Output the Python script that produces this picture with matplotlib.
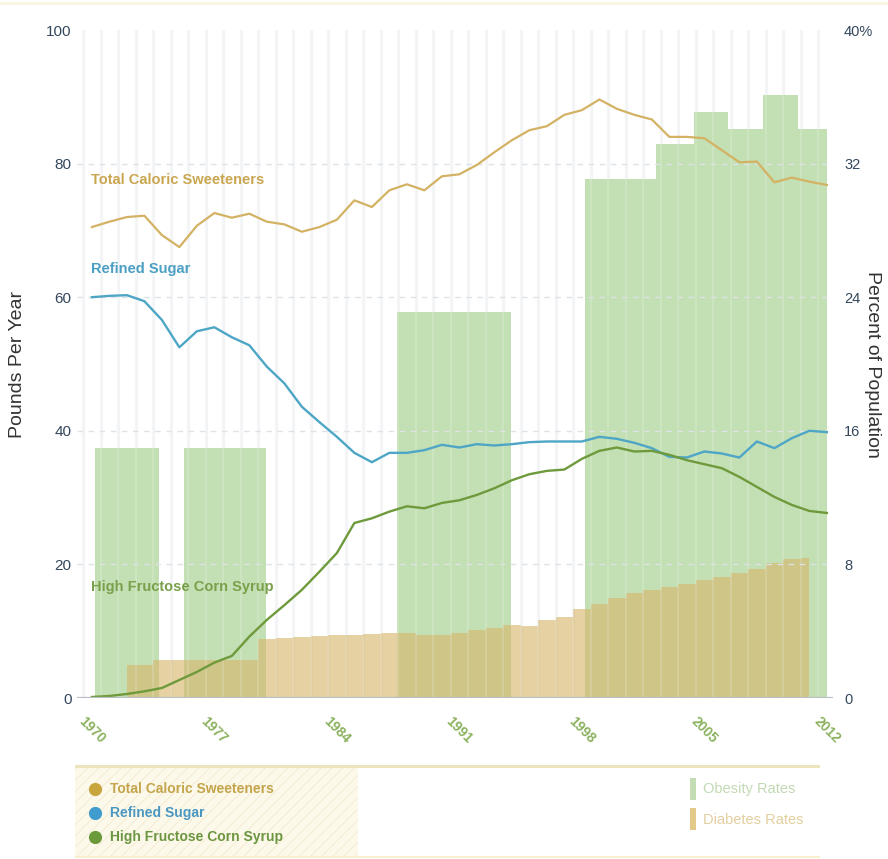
import numpy as np
import matplotlib
matplotlib.use("Agg")
import matplotlib.pyplot as plt
from matplotlib.patches import Rectangle
from matplotlib.lines import Line2D

plt.rcParams['font.family'] = ['Liberation Sans', 'DejaVu Sans']
plt.rcParams['hatch.linewidth'] = 0.6

# --- data (pounds per person per year, percent of population) ---
years = list(range(1970, 2013))
total_caloric = [70.5, 71.3, 72.0, 72.2, 69.3, 67.5, 70.7, 72.6, 71.9, 72.5,
                 71.3, 70.9, 69.8, 70.5, 71.6, 74.5, 73.5, 76.0, 76.9, 76.0,
                 78.1, 78.4, 79.8, 81.7, 83.5, 85.0, 85.6, 87.3, 88.0, 89.6,
                 88.2, 87.3, 86.6, 84.0, 84.0, 83.8, 82.0, 80.2, 80.3, 77.2,
                 77.9, 77.3, 76.8]
refined_sugar = [60.0, 60.2, 60.3, 59.4, 56.6, 52.5, 54.9, 55.5, 54.0, 52.8,
                 49.6, 47.1, 43.6, 41.3, 39.1, 36.7, 35.3, 36.7, 36.7, 37.1,
                 37.9, 37.5, 38.0, 37.8, 38.0, 38.3, 38.4, 38.4, 38.4, 39.1,
                 38.8, 38.2, 37.4, 36.1, 36.0, 36.9, 36.6, 36.0, 38.4, 37.4,
                 38.9, 40.0, 39.8]
hfcs = [0.15, 0.3, 0.6, 1.0, 1.5, 2.7, 3.9, 5.3, 6.3, 9.2,
        11.7, 13.9, 16.2, 18.9, 21.7, 26.2, 26.9, 27.9, 28.7, 28.4,
        29.2, 29.6, 30.4, 31.4, 32.6, 33.5, 34.0, 34.2, 35.8, 37.0,
        37.5, 36.9, 37.0, 36.4, 35.6, 35.0, 34.4, 33.1, 31.6, 30.1,
        28.9, 28.0, 27.7]

diabetes_years = list(range(1972, 2012))
diabetes = [1.98, 1.98, 2.28, 2.28, 2.28, 2.3, 2.3, 2.3,
            3.55, 3.6, 3.65, 3.7, 3.75, 3.8, 3.85, 3.9, 3.9, 3.8,
            3.8, 3.9, 4.05, 4.2, 4.4, 4.3, 4.65, 4.85, 5.3, 5.6,
            6.0, 6.3, 6.45, 6.65, 6.85, 7.05, 7.25, 7.5, 7.75, 8.1,
            8.35, 8.4]

obesity_periods = ["1971-74", "1976-80", "1988-94", "1999-02", "2003-04",
                   "2005-06", "2007-08", "2009-10", "2011-12"]
obesity_start = [1970.2, 1975.25, 1987.45, 1998.2, 2002.25, 2004.4, 2006.35, 2008.35, 2010.35]
obesity_end = [1973.85, 1979.95, 1993.95, 2002.25, 2004.4, 2006.35, 2008.35, 2010.35, 2012.0]
obesity_rate = [15.0, 15.0, 23.1, 31.1, 33.2, 35.1, 34.1, 36.1, 34.1]

xtick_years = [1970, 1977, 1984, 1991, 1998, 2005, 2012]

gold = '#d3b264'
blue = '#4ea6c6'
green = '#6e9a3c'
bar_green = '#c3dfb4'
tan = '#d6b66a'

fig = plt.figure(figsize=(8.88, 8.59), dpi=100)
fig.patch.set_facecolor('white')

ax2 = fig.add_axes([77 / 888, 1 - 698 / 859, 756 / 888, 668 / 859])
ax = ax2.twinx()
ax.set_zorder(ax2.get_zorder() + 1)
ax.patch.set_visible(False)

# background year stripes
stripes = np.arange(1969.5, 2012.0, 1.0)
for s in stripes:
    ax2.axvline(s, color='#f1f3f5', lw=2.2, zorder=0)

# obesity bars
for a, b, r in zip(obesity_start, obesity_end, obesity_rate):
    ax2.bar(a, r, width=b - a, align='edge', color=bar_green, lw=0, zorder=1)

# diabetes area
ax2.fill_between(diabetes_years, 0, diabetes, step='mid', color=tan,
                 alpha=0.62, lw=0, zorder=2)

for s in stripes:
    ax2.axvline(s, color='white', lw=1.2, alpha=0.2, zorder=3)

ax2.set_ylim(0, 40)
ax2.set_xlim(1969.15, 2012.35)

# sweetener lines
for yv in [20, 40, 60, 80]:
    ax.axhline(yv, color='#dfe2e6', lw=1, ls=(0, (4, 4)), zorder=1)
ax.plot(years, total_caloric, color=gold, lw=1.6, zorder=4)
ax.plot(years, refined_sugar, color=blue, lw=1.7, zorder=4)
ax.plot(years, hfcs, color=green, lw=1.7, zorder=4)
ax.axhline(0, color='#b9bdc4', lw=1.6, zorder=5)
ax.set_ylim(0, 100)
ax.set_xlim(1969.15, 2012.35)

ax.text(1969.95, 77.5, 'Total Caloric Sweeteners', color='#c9a650',
        fontsize=10.5, fontweight='bold', va='center', zorder=6)
ax.text(1969.95, 64.2, 'Refined Sugar', color='#4b9fc2',
        fontsize=10.5, fontweight='bold', va='center', zorder=6)
ax.text(1969.95, 16.6, 'High Fructose Corn Syrup', color='#79a04a',
        fontsize=10.5, fontweight='bold', va='center', zorder=6)

# axes styling
for a_ in (ax, ax2):
    for sp in a_.spines.values():
        sp.set_visible(False)

# ax (twin) holds the pounds scale; put it on the left
ax.yaxis.tick_left()
ax.yaxis.set_label_position('left')
ax2.yaxis.tick_right()
ax2.yaxis.set_label_position('right')

ax.set_yticks([0, 20, 40, 60, 80, 100])
ax.tick_params(axis='y', length=0, pad=4, labelsize=11, labelcolor='#34475c')
ax2.set_yticks([0, 8, 16, 24, 32, 40])
ax2.set_yticklabels(['0', '8', '16', '24', '32', '40%'])
ax2.tick_params(axis='y', length=0, pad=8, labelsize=10.5, labelcolor='#34475c')

ax2.set_xticks(xtick_years)
ax2.set_xticklabels([str(y) for y in xtick_years], rotation=-45, ha='center',
                    va='top', fontweight='bold', color='#8ab25e', fontsize=10)
ax2.tick_params(axis='x', length=0, pad=12)
ax.tick_params(axis='x', length=0, labelbottom=False)

ax.set_ylabel('Pounds Per Year', fontsize=14, color='#333333', va='center')
ax.yaxis.set_label_coords(-0.079, 0.5)
ax2.set_ylabel('Percent of Population', fontsize=14, color='#333333',
               rotation=-90, va='center')
ax2.yaxis.set_label_coords(1.052, 0.5)

# top faint rule
fig.add_artist(Line2D([0, 1], [0.997, 0.997], color='#faf5e0', lw=2))

# legend panel
lg = fig.add_axes([75 / 888, 1 / 859, 745 / 888, 93 / 859])
lg.set_xlim(0, 745)
lg.set_ylim(93, 0)
lg.axis('off')
lg.add_patch(Rectangle((0, 0), 283, 92, facecolor='#fcf8ea', edgecolor='#f3ead0',
                       hatch='///', lw=0))
lg.plot([0, 745], [1, 1], color='#ece4bd', lw=2.2)
lg.plot([0, 745], [92, 92], color='#f7f0cc', lw=2)

legend_names = ['Total Caloric Sweeteners', 'Refined Sugar', 'High Fructose Corn Syrup']
legend_dots = ['#c9a53e', '#3f9ccc', '#6b9a3a']
legend_text = ['#c4a54c', '#4a98c2', '#6c9640']
for i, (nm, dc, tc) in enumerate(zip(legend_names, legend_dots, legend_text)):
    yy = 24 + i * 24
    lg.scatter([20], [yy], s=90, color=dc, lw=0)
    lg.text(35, yy, nm, color=tc, fontsize=10, fontweight='bold', va='center')

lg.add_patch(Rectangle((615, 13), 6, 22, facecolor='#c4dcb4', lw=0))
lg.text(628, 24, 'Obesity Rates', color='#c2d9b4', fontsize=10.5, va='center')
lg.add_patch(Rectangle((615, 43), 6, 22, facecolor='#e2c98a', lw=0))
lg.text(628, 55, 'Diabetes Rates', color='#e3cf9f', fontsize=10.5, va='center')

fig.savefig('out.png', dpi=100)
